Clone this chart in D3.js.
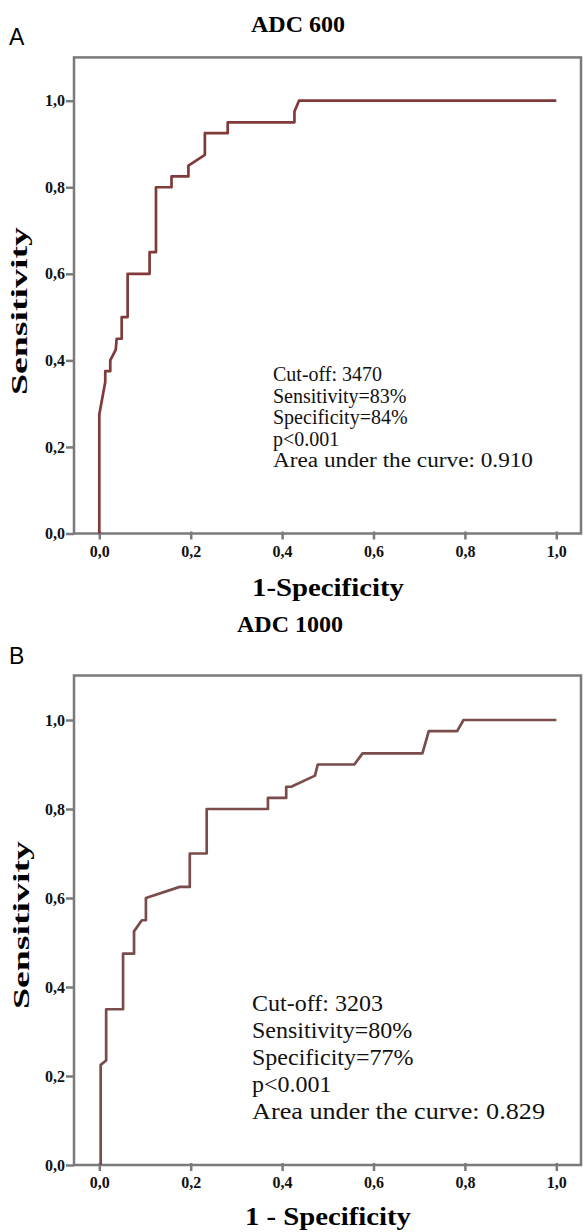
<!DOCTYPE html>
<html>
<head>
<meta charset="utf-8">
<script src="https://cdn.jsdelivr.net/npm/d3@7"></script>
<style>
  body { margin: 0; background: #fff; }
  svg { display: block; }
</style>
</head>
<body>
<svg id="chart"></svg>
<script>
// ROC curve A (ADC 600): 1-specificity and sensitivity
var fprA = [0, 0, 0.013, 0.013, 0.024, 0.024, 0.036, 0.038, 0.049, 0.049, 0.062, 0.062, 0.11, 0.11, 0.124, 0.124, 0.158, 0.158, 0.195, 0.195, 0.231, 0.231, 0.281, 0.281, 0.427, 0.427, 0.437, 1];
var tprA = [0, 0.275, 0.35, 0.375, 0.375, 0.4, 0.425, 0.45, 0.45, 0.5, 0.5, 0.6, 0.6, 0.65, 0.65, 0.8, 0.8, 0.825, 0.825, 0.85, 0.875, 0.925, 0.925, 0.95, 0.95, 0.975, 1, 1];

// ROC curve B (ADC 1000)
var fprB = [0.003, 0.003, 0.015, 0.015, 0.052, 0.052, 0.076, 0.076, 0.093, 0.102, 0.102, 0.176, 0.198, 0.198, 0.235, 0.235, 0.369, 0.369, 0.409, 0.409, 0.42, 0.472, 0.478, 0.558, 0.576, 0.707, 0.721, 0.783, 0.797, 1];
var tprB = [0, 0.225, 0.235, 0.35, 0.35, 0.475, 0.475, 0.525, 0.55, 0.55, 0.6, 0.625, 0.625, 0.7, 0.7, 0.8, 0.8, 0.825, 0.825, 0.85, 0.85, 0.875, 0.9, 0.9, 0.925, 0.925, 0.975, 0.975, 1, 1];

var tickValues = [0, 0.2, 0.4, 0.6, 0.8, 1.0];
var tickLabels = ["0,0", "0,2", "0,4", "0,6", "0,8", "1,0"];

var notesA = ["Cut-off: 3470", "Sensitivity=83%", "Specificity=84%", "p<0.001", "Area under the curve: 0.910"];
var notesB = ["Cut-off: 3203", "Sensitivity=80%", "Specificity=77%", "p<0.001", "Area under the curve: 0.829"];

var screen = {width: 583, height: 1232};

var svg = d3.select("#chart")
    .attr("width", screen.width)
    .attr("height", screen.height);

var serif = "'Liberation Serif', 'Times New Roman', serif";

var drawPanel = function(cfg)
{
    var xScale = d3.scaleLinear()
        .domain([0, 1])
        .range([99.3, 556.3]);

    var yScale = d3.scaleLinear()
        .domain([0, 1])
        .range([cfg.y0, cfg.y1]);

    var g = svg.append("g");

    // panel letter
    g.append("text")
        .attr("x", 9)
        .attr("y", cfg.letterY)
        .style("font-family", "'Liberation Sans', Arial, sans-serif")
        .style("font-size", "23px")
        .text(cfg.letter);

    // title
    g.append("text")
        .attr("x", cfg.titleX)
        .attr("y", cfg.titleY)
        .attr("text-anchor", "middle")
        .style("font-family", serif)
        .style("font-weight", "bold")
        .style("font-size", "24px")
        .text(cfg.title);

    // frame
    var left = 74, right = 581;
    var top = yScale(1.1), bottom = yScale(0);
    g.append("rect")
        .attr("x", left)
        .attr("y", top)
        .attr("width", right - left)
        .attr("height", bottom - top)
        .attr("fill", "none")
        .attr("stroke", "#7a7a7a")
        .attr("stroke-width", 2.5);

    // axes
    var yAxis = d3.axisLeft(yScale)
        .tickValues(tickValues)
        .tickFormat(function(d, i) { return tickLabels[i]; })
        .tickSize(8)
        .tickPadding(1);

    var xAxis = d3.axisBottom(xScale)
        .tickValues(tickValues)
        .tickFormat(function(d, i) { return tickLabels[i]; })
        .tickSize(6)
        .tickPadding(6);

    var ya = g.append("g")
        .attr("transform", "translate(" + left + ",0)")
        .call(yAxis);

    var xa = g.append("g")
        .attr("transform", "translate(0," + bottom + ")")
        .call(xAxis);

    [ya, xa].forEach(function(a) {
        a.select(".domain").remove();
        a.selectAll("line").attr("stroke", "#7a7a7a").attr("stroke-width", 2.5);
        a.selectAll("text")
            .attr("fill", "#111")
            .style("font-family", serif)
            .style("font-weight", "bold")
            .style("font-size", "16px");
    });
    xa.selectAll("line").attr("y1", -2);

    // axis titles
    g.append("text")
        .attr("transform", "translate(" + cfg.yLabelX + "," + cfg.yLabelY + ") rotate(-90)")
        .attr("text-anchor", "middle")
        .attr("textLength", 168)
        .attr("lengthAdjust", "spacingAndGlyphs")
        .style("font-family", serif)
        .style("font-weight", "bold")
        .style("font-size", "23px")
        .text("Sensitivity");

    g.append("text")
        .attr("x", 328)
        .attr("y", cfg.xLabelY)
        .attr("text-anchor", "middle")
        .attr("textLength", cfg.xLabelW)
        .attr("lengthAdjust", "spacingAndGlyphs")
        .style("font-family", serif)
        .style("font-weight", "bold")
        .style("font-size", "25px")
        .text(cfg.xLabel);

    // ROC curve
    var pts = cfg.fpr.map(function(f, i) { return [f, cfg.tpr[i]]; });
    g.append("path")
        .datum(pts)
        .attr("fill", "none")
        .attr("stroke", cfg.color)
        .attr("stroke-width", 2.7)
        .attr("stroke-linejoin", "round")
        .attr("d", d3.line()
            .x(function(d) { return xScale(d[0]); })
            .y(function(d) { return yScale(d[1]); }));

    // annotation
    var note = g.append("text")
        .style("font-family", serif)
        .style("font-size", cfg.noteSize + "px")
        .attr("fill", "#111");
    cfg.notes.forEach(function(t, i) {
        var ts = note.append("tspan")
            .attr("x", cfg.noteX)
            .attr("y", cfg.noteY + i * cfg.noteStep)
            .text(t);
        if (i === cfg.notes.length - 1) {
            ts.attr("textLength", cfg.noteW).attr("lengthAdjust", "spacingAndGlyphs");
        }
    });
};

drawPanel({
    letter: "A", letterY: 45,
    title: "ADC 600", titleX: 298, titleY: 32,
    y0: 533.5, y1: 100.7,
    yLabelX: 27, yLabelY: 311,
    xLabel: "1-Specificity", xLabelY: 596, xLabelW: 152,
    fpr: fprA, tpr: tprA, color: "#803a3a",
    notes: notesA, noteX: 273, noteY: 381, noteStep: 21.5, noteSize: 20, noteW: 260
});

drawPanel({
    letter: "B", letterY: 664,
    title: "ADC 1000", titleX: 290, titleY: 632,
    y0: 1165, y1: 720,
    yLabelX: 29, yLabelY: 925,
    xLabel: "1 - Specificity", xLabelY: 1225, xLabelW: 166,
    fpr: fprB, tpr: tprB, color: "#7a4c4c",
    notes: notesB, noteX: 252, noteY: 1011, noteStep: 27, noteSize: 24, noteW: 293
});
</script>
</body>
</html>
